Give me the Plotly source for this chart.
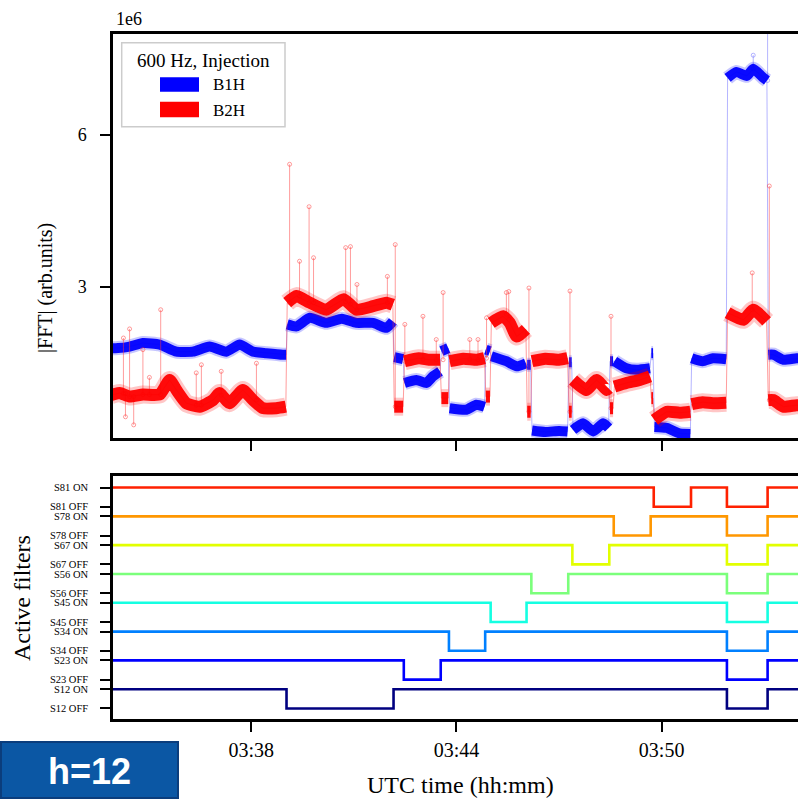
import pandas as pd
import plotly.graph_objects as go

# ---------------- data (minutes after 03:00 UTC, |FFT| in units of 1e6) ----------------
b1h_t = [33.9, 34.10, 34.44, 34.83, 35.32, 35.81, 36.29, 36.78, 37.27, 37.66, 38.05, 38.44, 38.92, 39.02, None,
         39.05, 39.32, 39.71, 40.19, 40.65, 41.07, 41.56, 41.95, 42.14, None,
         42.18, 42.44, None,
         42.48, 42.83, 43.12, 43.31, 43.52, None,
         43.56, 43.76, None,
         43.80, 44.29, 44.58, 44.82, None,
         44.86, 44.98, None,
         45.02, 45.46, 45.76, 46.03, None,
         46.07, 46.17, None,
         46.21, 46.60, 47.00, 47.25, None,
         47.29, 47.37, None,
         47.41, 47.70, 48.00, 48.29, 48.45, None,
         48.49, 48.58, None,
         48.62, 48.97, 49.27, 49.66, None,
         49.70, 49.75, None,
         49.79, 50.15, 50.53, 50.84, None,
         50.88, 51.20, 51.50, 51.89, None,
         51.93, 52.19, 52.49, 52.68, 52.98, 53.08, None,
         53.12, 53.27, 53.56, 53.95, 54.10]
b1h_v = [1.78, 1.78, 1.81, 1.88, 1.85, 1.71, 1.71, 1.81, 1.71, 1.85, 1.71, 1.68, 1.65, 1.65, None,
         2.25, 2.21, 2.38, 2.28, 2.36, 2.28, 2.28, 2.18, 2.31, None,
         1.60, 1.56, None,
         1.09, 1.15, 1.09, 1.22, 1.32, None,
         1.72, 1.78, None,
         0.59, 0.56, 0.66, 0.62, None,
         1.75, 1.72, None,
         1.62, 1.52, 1.42, 1.48, None,
         1.45, 1.45, None,
         0.15, 0.12, 0.14, 0.13, None,
         1.50, 1.50, None,
         0.16, 0.29, 0.13, 0.29, 0.20, None,
         1.52, 1.52, None,
         1.52, 1.38, 1.35, 1.38, None,
         1.68, 1.68, None,
         0.22, 0.20, 0.09, 0.08, None,
         1.58, 1.52, 1.58, 1.56, None,
         7.13, 7.25, 7.17, 7.31, 7.13, 7.08, None,
         1.65, 1.65, 1.55, 1.58, 1.58]

b2h_t = [33.9, 34.15, 34.44, 34.83, 35.32, 35.61, 35.81, 36.10, 36.49, 36.88, 37.07, 37.36, 37.75, 38.05, 38.34, 38.73, 39.01, None,
         39.05, 39.32, 39.71, 40.19, 40.70, 41.07, 41.56, 41.95, 42.14, None,
         42.18, 42.44, None,
         42.48, 42.90, 43.20, 43.52, None,
         43.56, 43.76, None,
         43.80, 44.20, 44.60, 44.82, None,
         44.86, 44.98, None,
         45.02, 45.36, 45.56, 45.76, 46.03, None,
         46.07, 46.17, None,
         46.21, 46.60, 47.00, 47.25, None,
         47.29, 47.37, None,
         47.41, 47.80, 48.10, 48.39, 48.45, None,
         48.49, 48.58, None,
         48.62, 48.97, 49.36, 49.66, None,
         49.70, 49.75, None,
         49.79, 50.15, 50.53, 50.84, None,
         50.88, 51.20, 51.50, 51.89, None,
         51.93, 52.39, 52.68, 53.07, None,
         53.12, 53.27, 53.56, 53.95, 54.10]
b2h_v = [0.85, 0.89, 0.82, 0.86, 0.86, 1.15, 0.95, 0.69, 0.62, 0.75, 0.89, 0.69, 0.95, 0.75, 0.59, 0.59, 0.62, None,
         2.68, 2.81, 2.68, 2.54, 2.75, 2.54, 2.61, 2.68, 2.64, None,
         0.62, 0.62, None,
         1.52, 1.58, 1.55, 1.55, None,
         0.79, 0.79, None,
         1.52, 1.57, 1.55, 1.58, None,
         0.82, 0.82, None,
         2.28, 2.41, 2.28, 2.01, 2.15, None,
         0.52, 0.52, None,
         1.52, 1.57, 1.55, 1.58, None,
         0.52, 0.52, None,
         1.15, 0.95, 1.15, 0.95, 0.98, None,
         0.59, 0.59, None,
         1.02, 1.09, 1.15, 1.22, None,
         0.79, 0.79, None,
         0.36, 0.52, 0.50, 0.52, None,
         0.67, 0.71, 0.69, 0.70, None,
         2.48, 2.34, 2.54, 2.31, None,
         0.75, 0.75, 0.62, 0.65, 0.64]

b2h_spike_t = [34.26, 34.44, 34.83, 35.02, 35.35, 36.39, 36.54, 37.12, 38.15, 34.32, 34.56,
               39.12, 39.41, 39.69, 39.82, 40.76, 40.90, 41.09, 41.98, 42.21,
               42.49, 43.02, 43.41, 43.61, 44.39, 44.63, 44.88, 45.46, 45.53, 46.12,
               47.32, 48.52, 52.65, 53.15]
b2h_spike_base = [0.88, 0.82, 0.86, 0.86, 0.86, 0.65, 0.65, 0.85, 0.75, 0.88, 0.82,
                  2.68, 2.81, 2.68, 2.68, 2.70, 2.65, 2.54, 2.68, 0.62,
                  1.52, 1.56, 1.55, 1.55, 1.56, 1.55, 1.58, 2.45, 2.35, 0.52,
                  0.52, 0.59, 2.54, 0.75]
b2h_spike_top = [1.98, 2.16, 1.75, 1.20, 2.54, 1.29, 1.45, 1.32, 1.48, 0.42, 0.26,
                 5.42, 3.50, 4.58, 3.57, 3.77, 3.79, 3.04, 3.20, 3.83,
                 2.25, 2.41, 1.95, 2.88, 1.95, 1.95, 2.38, 2.88, 2.90, 2.97,
                 2.91, 2.41, 3.27, 4.99]

b1h_spike_t = [52.68, 53.10]
b1h_spike_base = [7.31, 7.08]
b1h_spike_top = [7.58, 8.60]

filters = ["S12", "S23", "S34", "S45", "S56", "S67", "S78", "S81"]
off_start = [39.03, 42.46, 43.78, 45.00, 46.19, 47.39, 48.60, 49.77]
off_end = [42.16, 43.54, 44.84, 46.05, 47.27, 48.47, 49.68, 50.86]
all_off_start = 51.91
all_off_end = 53.10
t_first, t_last = 33.9, 54.1

x_ticks = ["03:38", "03:44", "03:50"]

# ---------------- helpers ----------------
BASE = pd.Timestamp("2018-10-27 03:00:00")


def tm(mins):
    out = []
    for m in mins:
        if m is None:
            out.append(None)
        else:
            out.append((BASE + pd.Timedelta(minutes=m)).strftime("%Y-%m-%d %H:%M:%S.%f"))
    return out


def px(x):
    return (x - 113) / 685.0


def py(y):
    return (719 - y) / 685.0


SERIF = "Liberation Serif, Times New Roman, serif"
jet = ["#000080", "#0000ff", "#0080ff", "#15ffe2", "#7bff7b", "#e2ff00", "#ff9700", "#ff2100"]

fig = go.Figure()


def add_series(t, v, color, faint, core_w, halo_w, s_t, s_b, s_top):
    t_nn = [a for a in t if a is not None]
    v_nn = [b for b in v if b is not None]
    fig.add_trace(go.Scatter(x=tm(t_nn), y=v_nn, mode="lines", line=dict(color=faint, width=1),
                             showlegend=False, hoverinfo="skip", xaxis="x", yaxis="y"))
    sx, sy = [], []
    for a, b, c in zip(s_t, s_b, s_top):
        sx += [a, a, None]
        sy += [b, c, None]
    fig.add_trace(go.Scatter(x=tm(sx), y=sy, mode="lines+markers", line=dict(color=faint, width=1),
                             marker=dict(size=4, symbol="circle-open", color=faint),
                             showlegend=False, hoverinfo="skip", xaxis="x", yaxis="y"))
    fig.add_trace(go.Scatter(x=tm(t), y=v, mode="lines",
                             line=dict(color=color, width=halo_w, shape="spline", smoothing=0.5),
                             opacity=0.22, connectgaps=False, showlegend=False, xaxis="x", yaxis="y"))
    fig.add_trace(go.Scatter(x=tm(t), y=v, mode="lines",
                             line=dict(color=color, width=core_w, shape="spline", smoothing=0.5),
                             opacity=0.95, connectgaps=False, showlegend=False, xaxis="x", yaxis="y"))


add_series(b1h_t, b1h_v, "#0000ff", "rgba(90,90,255,0.45)", 10, 14, b1h_spike_t, b1h_spike_base, b1h_spike_top)
add_series(b2h_t, b2h_v, "#ff0000", "rgba(255,60,60,0.5)", 12, 18, b2h_spike_t, b2h_spike_base, b2h_spike_top)

# ---------------- filter panel ----------------
tickvals, ticktext = [], []
for i, name in enumerate(filters):
    off_lvl, on_lvl = 3 * i, 3 * i + 2
    xs = [t_first, off_start[i], off_end[i], all_off_start, all_off_end, t_last]
    ys = [on_lvl, off_lvl, on_lvl, off_lvl, on_lvl, on_lvl]
    fig.add_trace(go.Scatter(x=tm(xs), y=ys, mode="lines", line=dict(color=jet[i], width=2.6, shape="hv"),
                             showlegend=False, xaxis="x2", yaxis="y2"))
    tickvals += [off_lvl, on_lvl]
    ticktext += [name + " OFF", name + " ON"]

x_range = tm([33.955, 53.989])
x_tickvals = tm([38, 44, 50])

axis_common = dict(showgrid=False, zeroline=False, showline=True, linecolor="black", linewidth=2.5,
                   ticks="outside", ticklen=10, tickwidth=2, tickcolor="black")

fig.update_layout(
    width=798, height=799,
    margin=dict(l=113, r=0, t=34, b=80),
    paper_bgcolor="white", plot_bgcolor="white",
    showlegend=False,
    font=dict(family=SERIF, color="black"),
    xaxis=dict(**axis_common, type="date", domain=[0, 1], anchor="y", range=x_range,
               tickvals=x_tickvals, showticklabels=False, mirror=True),
    yaxis=dict(**axis_common, domain=[py(438), 1], anchor="x", range=[0, 8], tickvals=[3, 6],
               ticktext=["3", "6"], tickfont=dict(size=18, family=SERIF), ticklabelstandoff=10),
    xaxis2=dict(**axis_common, type="date", domain=[0, 1], anchor="y2", range=x_range,
                tickvals=x_tickvals, ticktext=x_ticks, tickfont=dict(size=20, family=SERIF),
                ticklabelstandoff=1, mirror=True),
    yaxis2=dict(**axis_common, domain=[0, py(476)], anchor="x2", range=[-1.1, 24.2], tickvals=tickvals,
                ticktext=ticktext, tickfont=dict(size=10.5, family=SERIF), ticklabelstandoff=10),
)

shapes = [
    dict(type="rect", xref="paper", yref="paper", x0=px(121.7), x1=px(285), y0=py(126.7), y1=py(42.7),
         line=dict(color="#cccccc", width=1.5), fillcolor="rgba(255,255,255,0.85)", layer="above"),
    dict(type="rect", xref="paper", yref="paper", x0=px(160), x1=px(199), y0=py(91.7), y1=py(77.3),
         line=dict(width=0), fillcolor="#0000ff", layer="above"),
    dict(type="rect", xref="paper", yref="paper", x0=px(160), x1=px(199), y0=py(117.3), y1=py(101.7),
         line=dict(width=0), fillcolor="#ff0000", layer="above"),
    dict(type="rect", xref="paper", yref="paper", x0=px(1), x1=px(178), y0=py(798), y1=py(742),
         line=dict(color="#0b3d7c", width=2), fillcolor="#0b57a4", layer="above"),
]

annotations = [
    dict(text="1e6", x=px(114), y=py(19), xref="paper", yref="paper", xanchor="left", yanchor="middle",
         showarrow=False, font=dict(size=18, family=SERIF)),
    dict(text="|FFT| (arb.units)", x=px(45), y=py(288), xref="paper", yref="paper", textangle=-90,
         xanchor="center", yanchor="middle", showarrow=False, font=dict(size=20, family=SERIF)),
    dict(text="Active filters", x=px(22), y=py(598), xref="paper", yref="paper", textangle=-90,
         xanchor="center", yanchor="middle", showarrow=False, font=dict(size=24, family=SERIF)),
    dict(text="UTC time (hh:mm)", x=px(460), y=py(785), xref="paper", yref="paper",
         xanchor="center", yanchor="middle", showarrow=False, font=dict(size=24, family=SERIF)),
    dict(text="600 Hz, Injection", x=px(203), y=py(60), xref="paper", yref="paper",
         xanchor="center", yanchor="middle", showarrow=False, font=dict(size=19, family=SERIF)),
    dict(text="B1H", x=px(211), y=py(85), xref="paper", yref="paper",
         xanchor="left", yanchor="middle", showarrow=False, font=dict(size=17, family=SERIF)),
    dict(text="B2H", x=px(211), y=py(110), xref="paper", yref="paper",
         xanchor="left", yanchor="middle", showarrow=False, font=dict(size=17, family=SERIF)),
    dict(text="<b>h=12</b>", x=px(89), y=py(771), xref="paper", yref="paper",
         xanchor="center", yanchor="middle", showarrow=False,
         font=dict(size=36, family="Liberation Sans, Arial, sans-serif", color="white")),
]
fig.update_layout(shapes=shapes, annotations=annotations)

fig.write_html("out.html")
